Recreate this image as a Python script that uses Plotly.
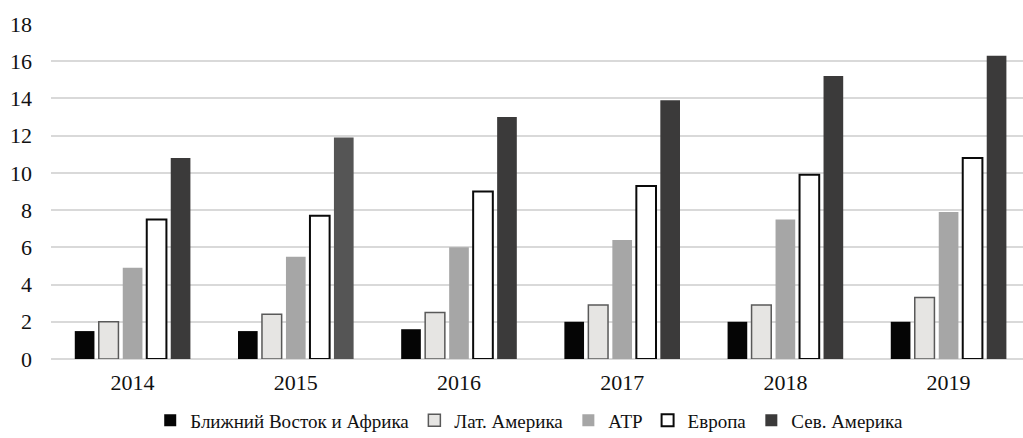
import plotly.graph_objects as go

years = ["2014", "2015", "2016", "2017", "2018", "2019"]

mena = [1.5, 1.5, 1.6, 2.0, 2.0, 2.0]          # Ближний Восток и Африка
latam = [2.0, 2.4, 2.5, 2.9, 2.9, 3.3]         # Лат. Америка
apac = [4.9, 5.5, 6.0, 6.4, 7.5, 7.9]          # АТР
europe = [7.5, 7.7, 9.0, 9.3, 9.9, 10.8]       # Европа
namerica = [10.8, 11.9, 13.0, 13.9, 15.2, 16.3]  # Сев. Америка

names = ["Ближний Восток и Африка", "Лат. Америка", "АТР", "Европа", "Сев. Америка"]

serif = "Liberation Serif"

fig = go.Figure()
fig.add_trace(go.Bar(x=years, y=mena, name=names[0],
                     marker=dict(color="#050505", line=dict(width=0))))
fig.add_trace(go.Bar(x=years, y=latam, name=names[1],
                     marker=dict(color="#e6e5e3", line=dict(color="#595959", width=1.5))))
fig.add_trace(go.Bar(x=years, y=apac, name=names[2],
                     marker=dict(color="#a6a6a6", line=dict(width=0))))
fig.add_trace(go.Bar(x=years, y=europe, name=names[3],
                     marker=dict(color="#ffffff", line=dict(color="#0a0a0a", width=2))))
na_colors = ["#3b3a3a", "#555555", "#3b3a3a", "#3b3a3a", "#3b3a3a", "#3b3a3a"]
fig.add_trace(go.Bar(x=years, y=namerica, name=names[4],
                     marker=dict(color=na_colors, line=dict(width=0))))

fig.update_layout(
    template="none",
    width=1023, height=438,
    margin=dict(l=51, r=0, t=24, b=79, autoexpand=False),
    paper_bgcolor="white", plot_bgcolor="white",
    font=dict(family=serif, color="#111111", size=20),
    barmode="group", bargap=0.265, bargroupgap=0.18,
    showlegend=True,
    legend=dict(orientation="h", x=0.492, xanchor="center",
                y=0.04, yref="container", yanchor="middle",
                font=dict(size=19, family=serif, color="#111111"),
                itemwidth=30, traceorder="normal"),
)
fig.update_xaxes(type="category", range=[-0.5, 5.456], showgrid=False, showline=False,
                 ticks="", zeroline=False,
                 tickfont=dict(size=22, family=serif, color="#111111"), ticklabelstandoff=8)
fig.update_yaxes(range=[0, 18], dtick=2, showgrid=True, gridcolor="#d9d9d9", gridwidth=1.5,
                 zeroline=True, zerolinecolor="#d9d9d9", zerolinewidth=1.5,
                 showline=False, ticks="", tickfont=dict(size=22, family=serif, color="#111111"),
                 ticklabelstandoff=18)

fig.write_html("out.html")
